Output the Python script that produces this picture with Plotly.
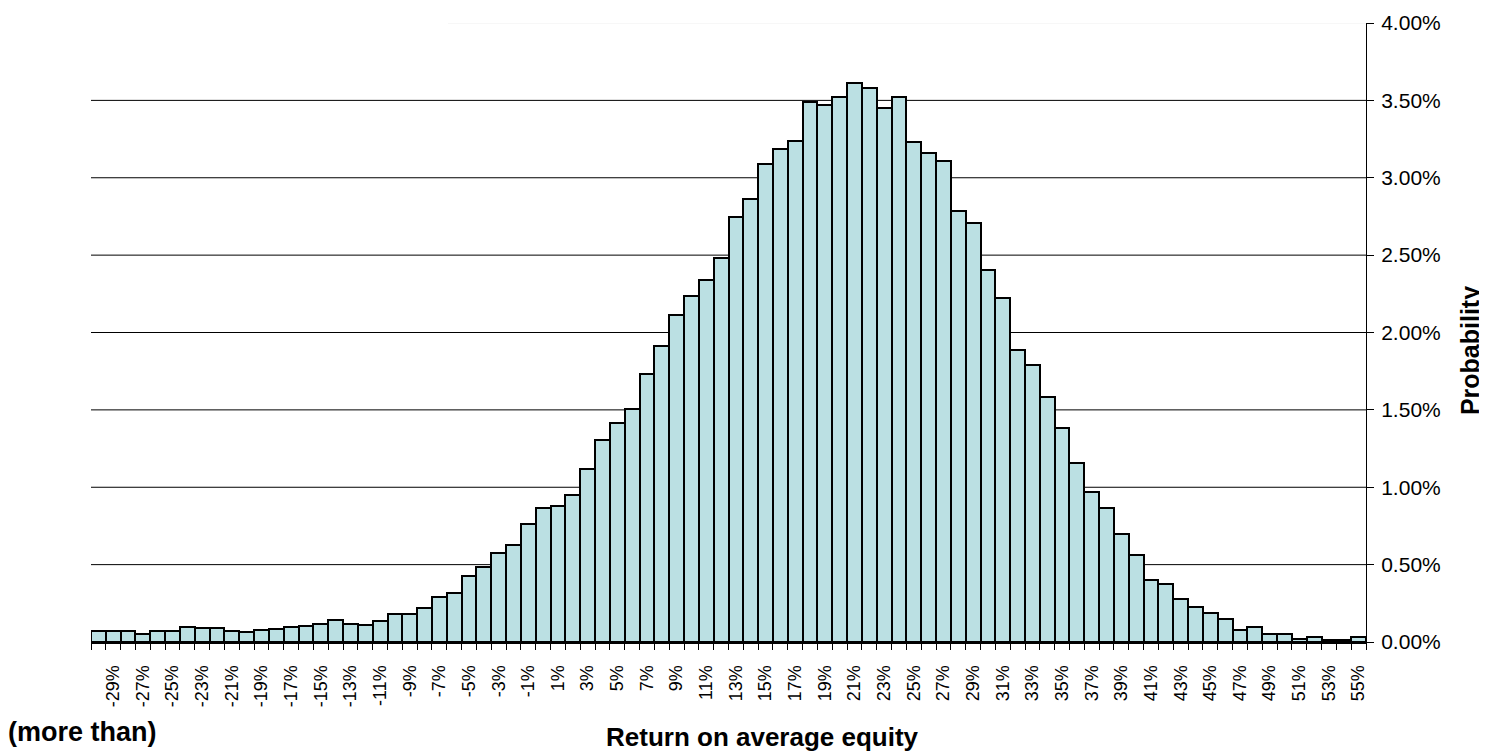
import plotly.graph_objects as go

# Return on average equity buckets (%), leftmost bucket = "(more than)" tail
returns_pct = list(range(-30, 56))

# Probability per bucket (%)
prob_pct = [
    0.069, 0.074, 0.069, 0.052, 0.074, 0.074, 0.095, 0.089, 0.089, 0.074,   # -30..-21
    0.065, 0.080, 0.082, 0.097, 0.106, 0.117, 0.145, 0.117, 0.108, 0.136,   # -20..-11
    0.184, 0.184, 0.221, 0.292, 0.318, 0.429, 0.483, 0.578, 0.627, 0.762,   # -10..-1
    0.865, 0.880, 0.952, 1.120, 1.307, 1.416, 1.505, 1.730, 1.915, 2.113,   # 0..9
    2.234, 2.338, 2.479, 2.748, 2.864, 3.089, 3.186, 3.238, 3.490, 3.470,   # 10..19
    3.522, 3.611, 3.581, 3.450, 3.520, 3.228, 3.159, 3.107, 2.785, 2.709,   # 20..29
    2.405, 2.224, 1.886, 1.787, 1.584, 1.382, 1.159, 0.969, 0.867, 0.697,   # 30..39
    0.564, 0.403, 0.378, 0.275, 0.227, 0.185, 0.148, 0.079, 0.096, 0.049,   # 40..49
    0.049, 0.020, 0.035, 0.010, 0.010, 0.032,                               # 50..55
]

x_tick_vals = list(range(-29, 56, 2))
x_tick_text = [f"{v}%" for v in x_tick_vals]
y_tick_vals = [0.0, 0.005, 0.01, 0.015, 0.02, 0.025, 0.03, 0.035, 0.04]
grid_vals = [0.005, 0.01, 0.015, 0.02, 0.025, 0.03, 0.035]
bucket_edges = [v - 0.5 for v in returns_pct] + [returns_pct[-1] + 0.5]

FONT = "Arial, Liberation Sans, sans-serif"

fig = go.Figure()
fig.add_trace(go.Bar(
    x=returns_pct,
    y=[p / 100 for p in prob_pct],
    marker=dict(color="#BBE0E3", line=dict(color="#000000", width=2)),
    width=1.0,
    hoverinfo="x+y",
))

shapes = []
for g in grid_vals:
    shapes.append(dict(type="line", xref="paper", yref="y", x0=0, x1=1, y0=g, y1=g,
                       line=dict(color="#000000", width=1), layer="below"))
shapes.append(dict(type="line", xref="paper", yref="y", x0=0.28, x1=1, y0=0.04, y1=0.04,
                   line=dict(color="#f0f0f0", width=1), layer="below"))

fig.update_layout(
    width=1479, height=743,
    margin=dict(l=83, r=121, t=15, b=109, autoexpand=False),
    paper_bgcolor="white", plot_bgcolor="white",
    bargap=0,
    showlegend=False,
    font=dict(family=FONT, color="#000000"),
    shapes=shapes,
    xaxis=dict(
        automargin=False,
        range=[-30.5, 55.5],
        tickmode="array", tickvals=x_tick_vals, ticktext=x_tick_text,
        tickangle=-90, tickfont=dict(size=18, family=FONT),
        ticks="outside", ticklen=14, tickcolor="rgba(0,0,0,0)",
        minor=dict(tickmode="array", tickvals=bucket_edges, ticks="outside",
                   ticklen=6, tickwidth=1, tickcolor="#000000", showgrid=False),
        showline=True, linecolor="#000000", linewidth=2,
        showgrid=False, zeroline=False,
    ),
    yaxis=dict(
        automargin=False,
        side="right",
        range=[0, 0.04],
        tickmode="array", tickvals=y_tick_vals, tickformat=".2%",
        tickfont=dict(size=21, family=FONT),
        ticks="outside", ticklen=7, tickcolor="#000000", tickwidth=1,
        ticklabelstandoff=3,
        showline=True, linecolor="#000000", linewidth=1,
        showgrid=False, zeroline=False,
    ),
    annotations=[
        dict(text="<b>(more than)</b>", xref="paper", yref="paper",
             x=-0.0667, y=-0.1454, xanchor="left", yanchor="middle",
             showarrow=False, font=dict(size=27, family=FONT)),
        dict(text="<b>Return on average equity</b>", xref="paper", yref="paper",
             x=0.527, y=-0.1535, xanchor="center", yanchor="middle",
             showarrow=False, font=dict(size=26, family=FONT)),
        dict(text="<b>Probability</b>", xref="paper", yref="paper",
             x=1.0816, y=0.470, xanchor="center", yanchor="middle", textangle=-90,
             showarrow=False, font=dict(size=25, family=FONT)),
    ],
)

fig.write_html("out.html")
